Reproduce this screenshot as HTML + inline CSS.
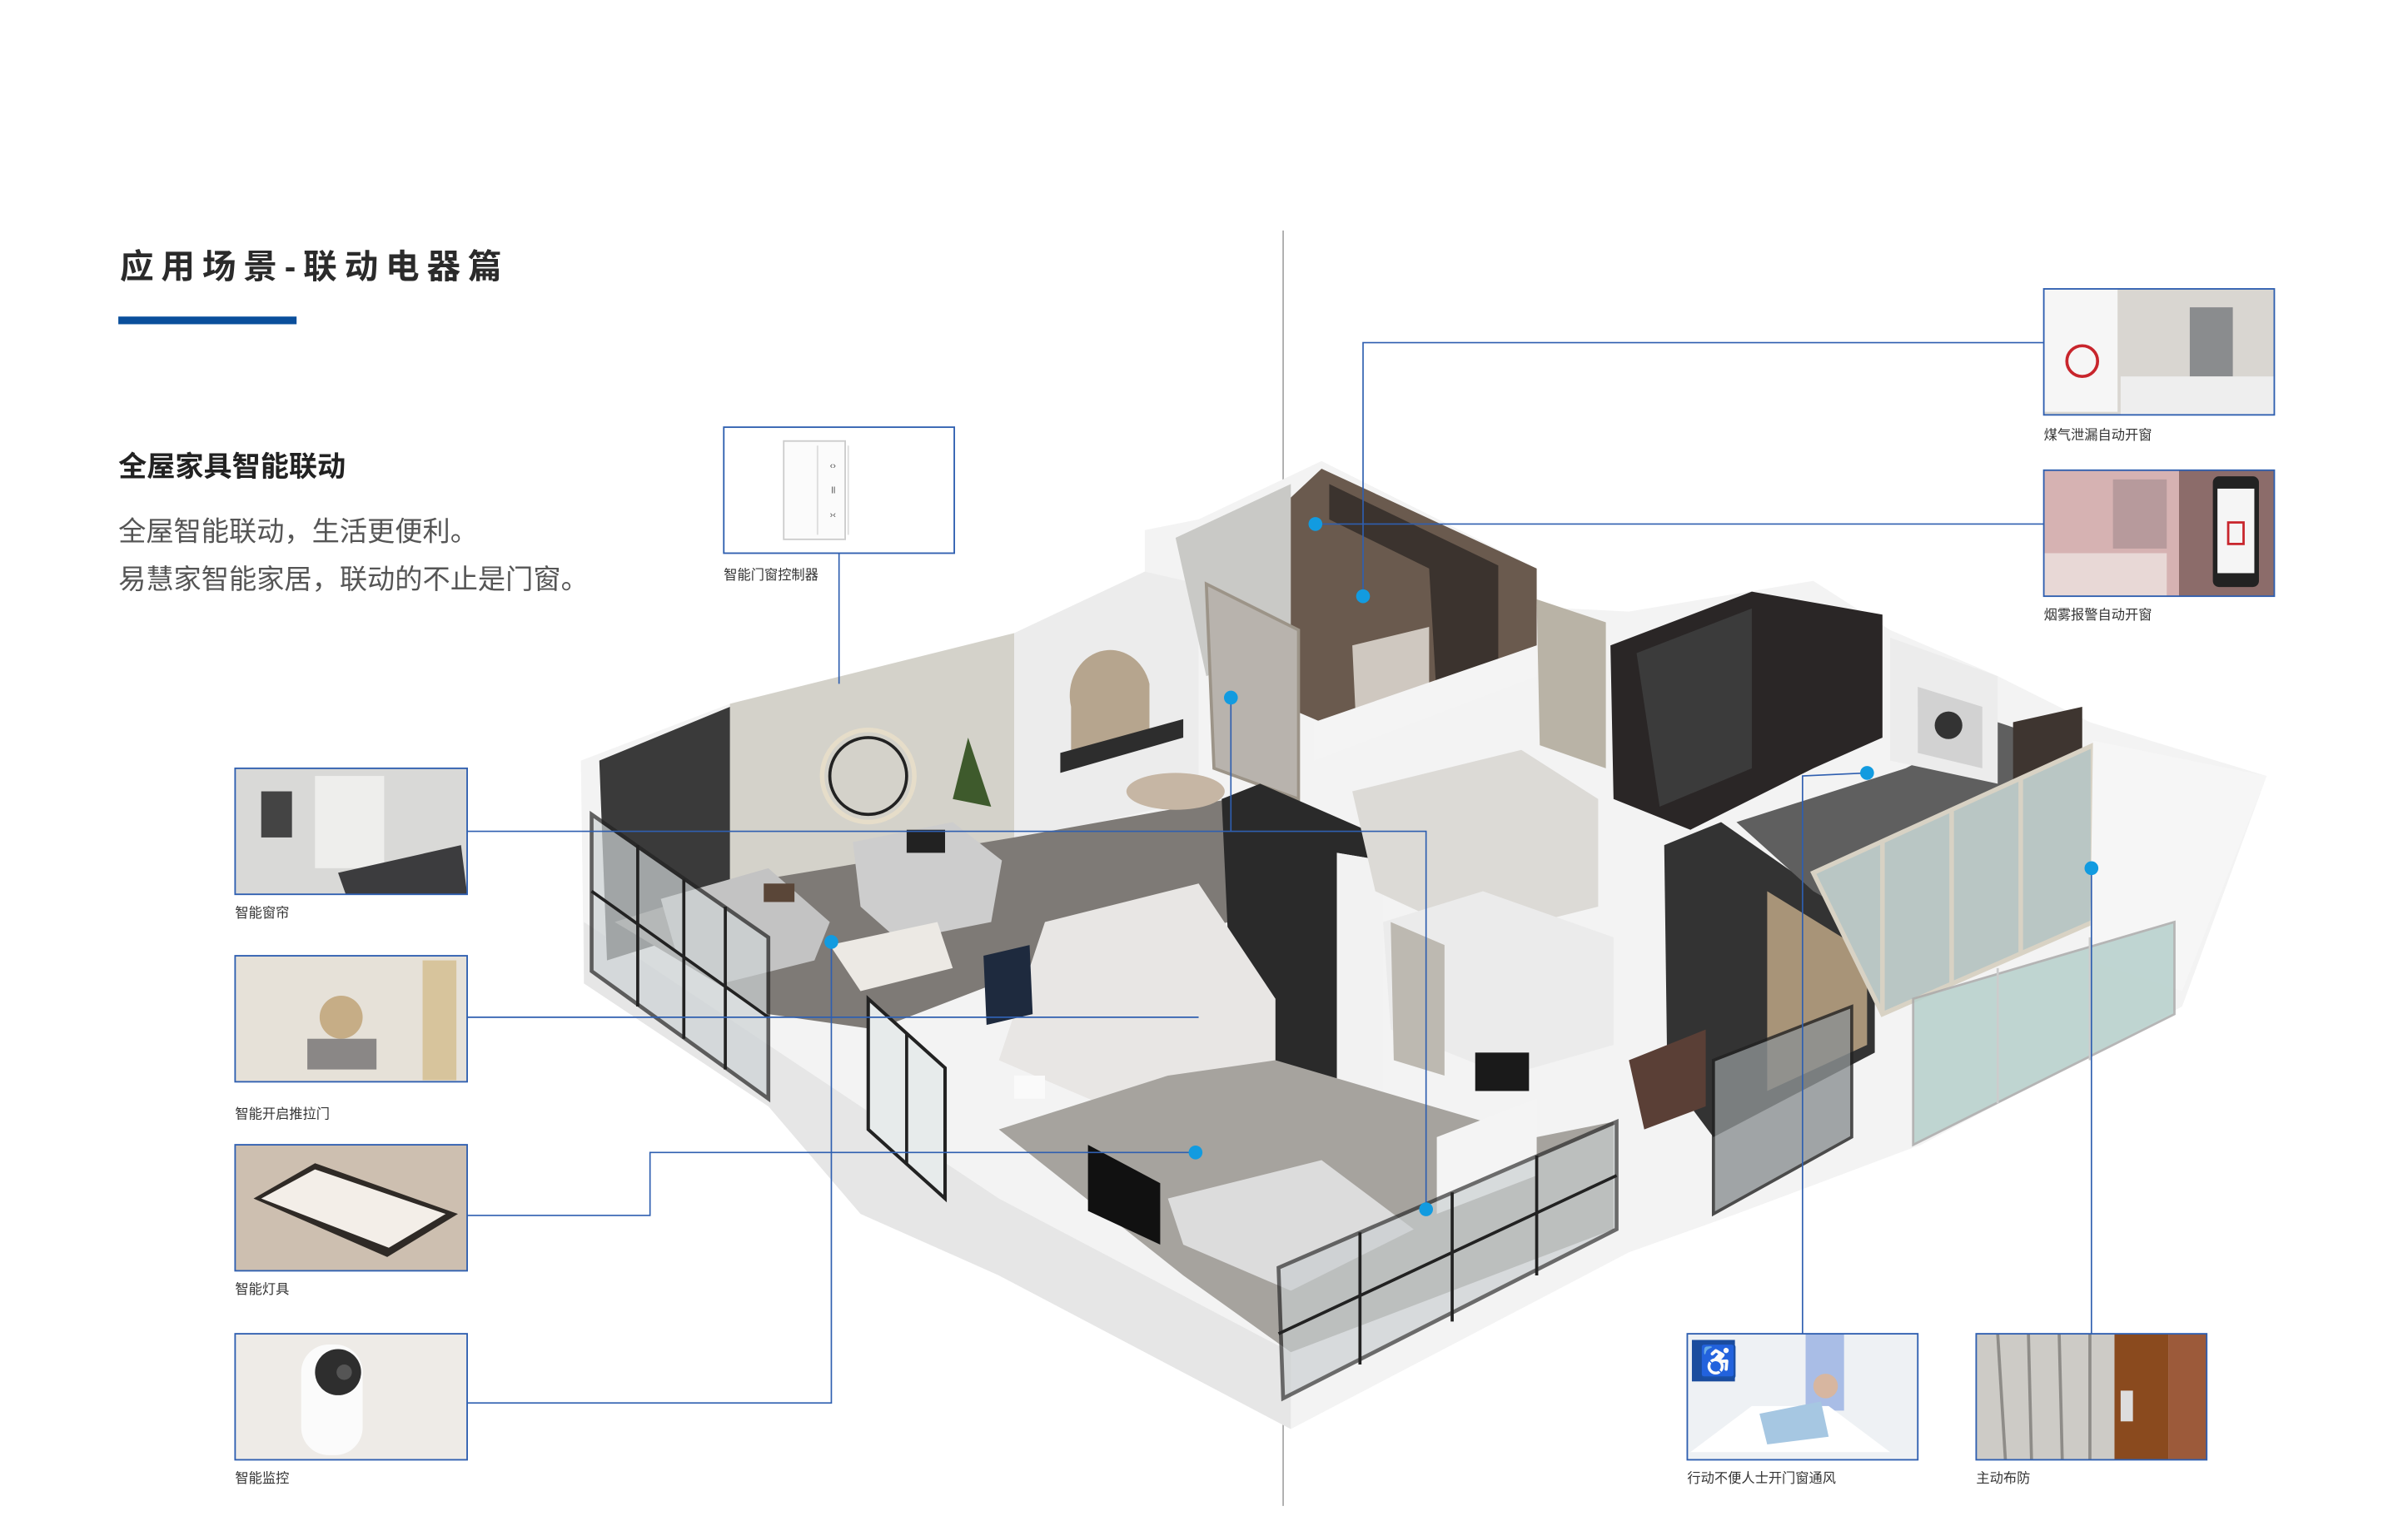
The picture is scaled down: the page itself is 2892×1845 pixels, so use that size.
<!DOCTYPE html>
<html><head><meta charset="utf-8"><style>
html,body{margin:0;padding:0;background:#fff;}
svg{display:block;}
text{font-family:"Liberation Sans","Noto Sans CJK SC",sans-serif;}
</style></head><body>
<svg width="2892" height="1845" viewBox="0 0 1567 999.6" preserveAspectRatio="none" xmlns="http://www.w3.org/2000/svg">
<rect width="1567" height="1000" fill="#fff"/>
<text x="78" y="181" font-size="22" font-weight="bold" fill="#2b2b2b" letter-spacing="4.8">应用场景-联动电器篇</text>
<rect x="77" y="206" width="116" height="5" fill="#0a4f9c"/>
<text x="77" y="310" font-size="18.5" font-weight="bold" fill="#222">全屋家具智能联动</text>
<text x="77" y="352" font-size="18" fill="#555">全屋智能联动，生活更便利。</text>
<text x="77" y="383" font-size="18" fill="#555">易慧家智能家居，联动的不止是门窗。</text>
<line x1="835" y1="150" x2="835" y2="980" stroke="#888" stroke-width="0.7"/>

<g>
<polygon points="378,495 475,458 660,412 745,372 745,345 780,338 860,300 1000,370 1000,395 1060,398 1180,378 1230,410 1300,440 1360,470 1475,505 1420,655 1250,745 1130,790 1060,815 840,930 650,830 600,790 500,720 380,640" fill="#f3f3f3"/>
<polygon points="380,640 500,720 560,790 650,830 840,930 840,880 650,780 500,680 380,600" fill="#e6e6e6"/>
<polygon points="475,458 660,412 660,548 475,600" fill="#d4d2ca"/>
<polygon points="390,495 475,460 475,600 395,625" fill="#3a3a3a"/>
<polygon points="660,412 745,372 780,380 780,520 660,548" fill="#ececec"/>
<circle cx="565" cy="505" r="25" fill="none" stroke="#222" stroke-width="2"/>
<circle cx="565" cy="505" r="30" fill="none" stroke="#f2e4c8" stroke-width="3" opacity="0.6"/>
<path d="M697,460 A25,28 0 0 1 748,445 L748,480 L697,490 Z" fill="#b6a58e"/>
<polygon points="400,600 480,575 660,545 800,520 800,600 700,620 570,670 500,660" fill="#7e7a76"/>
<polygon points="430,585 500,565 540,600 530,625 470,640 440,620" fill="#c3c3c3"/>
<polygon points="555,548 620,535 652,560 645,600 585,612 560,590" fill="#cdcdcd"/>
<rect x="590" y="540" width="25" height="15" fill="#222"/>
<rect x="497" y="575" width="20" height="12" fill="#5a4638"/>
<polygon points="540,615 610,600 620,630 560,645" fill="#ece9e4"/>
<ellipse cx="765" cy="515" rx="32" ry="12" fill="#c6b6a4"/>
<polygon points="690,490 770,468 770,480 690,503" fill="#2d2d2d"/>
<polygon points="620,520 630,480 645,525" fill="#3e5a2c"/>
<polygon points="780,380 860,305 1000,370 1000,420 860,470 790,440" fill="#6a5a4e"/>
<polygon points="765,350 840,315 840,420 785,440" fill="#c9c9c6"/>
<polygon points="865,315 975,368 975,440 935,455 930,370 865,338" fill="#3b332e"/>
<polygon points="880,420 930,408 930,455 882,462" fill="#cfc8c0"/>
<polygon points="855,470 1000,420 1000,440 855,495" fill="#f4f4f4"/>
<polygon points="785,380 845,410 845,520 790,500" fill="#b8b3ad" stroke="#9c9488" stroke-width="2"/>
<polygon points="795,520 820,510 900,545 900,560 870,555 870,718 803,695" fill="#2a2a2a"/>
<polygon points="870,555 900,560 900,718 870,718" fill="#f2f2f2"/>
<polygon points="680,600 780,575 830,650 830,700 720,720 650,690" fill="#e8e6e4"/>
<polygon points="640,622 670,615 672,660 642,667" fill="#1e2a3e"/>
<rect x="660" y="700" width="20" height="15" fill="#fafafa"/>
<polygon points="565,650 615,695 615,780 565,735" fill="#e7ebeb" stroke="#222" stroke-width="2.2"/>
<line x1="590" y1="672" x2="590" y2="758" stroke="#222" stroke-width="2"/>
<polygon points="385,530 500,610 500,715 385,632" fill="#cdd3d5" opacity="0.7" stroke="#222" stroke-width="2.5"/>
<line x1="415" y1="550" x2="415" y2="655" stroke="#222" stroke-width="2"/>
<line x1="445" y1="572" x2="445" y2="676" stroke="#222" stroke-width="2"/>
<line x1="472" y1="590" x2="472" y2="696" stroke="#222" stroke-width="2"/>
<line x1="385" y1="580" x2="500" y2="662" stroke="#222" stroke-width="2"/>
<polygon points="880,515 990,488 1040,520 1040,590 960,610 895,580" fill="#dcdad6"/>
<polygon points="900,600 965,580 1050,610 1050,680 980,700 905,670" fill="#ebebeb"/>
<polygon points="905,600 940,615 940,700 907,690" fill="#bdb9b1"/>
<polygon points="1000,390 1045,405 1045,500 1002,485" fill="#b9b3a6"/>
<polygon points="650,735 760,700 830,690 1000,740 1050,730 1050,800 840,880 770,830" fill="#a6a39e"/>
<polygon points="760,780 860,755 920,800 840,840 770,810" fill="#dcdcdc"/>
<polygon points="708,745 755,770 755,810 708,788" fill="#111"/>
<polygon points="935,740 1000,715 1000,765 935,790" fill="#f4f4f4"/>
<rect x="960" y="685" width="35" height="25" fill="#1a1a1a"/>
<polygon points="832,825 1052,730 1052,800 835,910" fill="#c9ced0" opacity="0.65" stroke="#222" stroke-width="2.5"/>
<line x1="885" y1="802" x2="885" y2="888" stroke="#222" stroke-width="2"/>
<line x1="945" y1="776" x2="945" y2="860" stroke="#222" stroke-width="2"/>
<line x1="1000" y1="752" x2="1000" y2="830" stroke="#222" stroke-width="2"/>
<line x1="832" y1="868" x2="1052" y2="765" stroke="#222" stroke-width="2"/>
<polygon points="1048,420 1140,385 1225,400 1225,480 1180,500 1100,540 1050,520" fill="#2a2626"/>
<polygon points="1065,425 1140,396 1140,500 1080,525" fill="#3b3b3b"/>
<polygon points="1083,550 1120,535 1220,605 1220,685 1115,740 1085,700" fill="#333"/>
<polygon points="1150,580 1215,620 1215,680 1150,710" fill="#a89478"/>
<polygon points="1060,690 1110,670 1110,720 1070,735" fill="#5a3f36"/>
<polygon points="1115,690 1205,655 1205,740 1115,790" fill="#8c9193" opacity="0.8" stroke="#222" stroke-width="2"/>
<polygon points="1130,535 1240,500 1300,470 1360,490 1340,560 1250,620 1180,580" fill="#5f5f5f"/>
<polygon points="1230,415 1300,440 1300,510 1230,495" fill="#ececec"/>
<polygon points="1248,447 1290,460 1290,500 1248,490" fill="#d2d2d2"/>
<circle cx="1268" cy="472" r="9" fill="#333"/>
<polygon points="1310,470 1355,460 1355,500 1310,510" fill="#3e3530"/>
<polygon points="1180,568 1362,485 1362,600 1225,660" fill="#b9c6c4" stroke="#d8d2c4" stroke-width="3"/>
<line x1="1225" y1="548" x2="1225" y2="660" stroke="#d8d2c4" stroke-width="3"/>
<line x1="1270" y1="528" x2="1270" y2="640" stroke="#d8d2c4" stroke-width="3"/>
<line x1="1315" y1="507" x2="1315" y2="620" stroke="#d8d2c4" stroke-width="3"/>
<polygon points="1362,482 1475,505 1420,645 1360,625" fill="#f6f6f6"/>
<polygon points="1245,650 1415,600 1415,660 1245,745" fill="#b6d0cc" opacity="0.85" stroke="#aaa" stroke-width="1.5"/>
<line x1="1300" y1="630" x2="1300" y2="718" stroke="#ccc" stroke-width="1.5"/>
<line x1="1360" y1="610" x2="1360" y2="690" stroke="#ccc" stroke-width="1.5"/>
</g>

<g stroke="#2f5fb0" stroke-width="0.9" fill="none">
<polyline points="546,360 546,445"/>
<polyline points="304,541 928,541 928,787"/>
<polyline points="801,454 801,541"/>
<polyline points="304,662 780,662"/>
<polyline points="304,791 423,791 423,750 778,750"/>
<polyline points="304,913 541,913 541,613"/>
<polyline points="1330,223 887,223 887,388"/>
<polyline points="1330,341 856,341"/>
<polyline points="1173,868 1173,505 1215,503"/>
<polyline points="1361,868 1361,565"/>
</g>
<g fill="#129be0">
<circle cx="856" cy="341" r="4.5"/><circle cx="887" cy="388" r="4.5"/>
<circle cx="801" cy="454" r="4.5"/><circle cx="541" cy="613" r="4.5"/>
<circle cx="778" cy="750" r="4.5"/><circle cx="928" cy="787" r="4.5"/>
<circle cx="1215" cy="503" r="4.5"/><circle cx="1361" cy="565" r="4.5"/>
</g>

<rect x="471" y="278" width="150" height="82" fill="#fff" stroke="#2f5fb0" stroke-width="1"/>
<rect x="510" y="287" width="40" height="64" fill="#fbfbfb" stroke="#ccc" stroke-width="1"/>
<line x1="532" y1="290" x2="532" y2="348" stroke="#ddd"/><line x1="552" y1="290" x2="552" y2="348" stroke="#ddd"/>
<text x="540" y="305" font-size="6" fill="#555">‹›</text>
<text x="541" y="321" font-size="6" fill="#555">ll</text>
<text x="540" y="337" font-size="6" fill="#555">›‹</text>
<text x="471" y="377" font-size="8.8" fill="#333">智能门窗控制器</text>

<g>
<rect x="153" y="500" width="151" height="82" fill="#d9d9d7"/>
<rect x="205" y="505" width="45" height="60" fill="#eeeeec"/>
<polygon points="220,568 300,550 304,582 225,582" fill="#3c3c3e"/>
<rect x="170" y="515" width="20" height="30" fill="#444"/>
<rect x="153" y="500" width="151" height="82" fill="none" stroke="#2f5fb0" stroke-width="1"/>
<text x="153" y="597" font-size="8.8" fill="#333">智能窗帘</text>

<rect x="153" y="622" width="151" height="82" fill="#e6e1d8"/>
<circle cx="222" cy="662" r="14" fill="#c6ad86"/>
<rect x="200" y="676" width="45" height="20" fill="#8a8786"/>
<rect x="275" y="625" width="22" height="78" fill="#d7c49c"/>
<rect x="153" y="622" width="151" height="82" fill="none" stroke="#2f5fb0" stroke-width="1"/>
<text x="153" y="728" font-size="8.8" fill="#333">智能开启推拉门</text>

<rect x="153" y="745" width="151" height="82" fill="#cdbfb0"/>
<polygon points="165,780 205,757 298,790 252,818" fill="#2f2a26"/>
<polygon points="170,780 205,761 290,790 253,812" fill="#f3eee8"/>
<rect x="153" y="745" width="151" height="82" fill="none" stroke="#2f5fb0" stroke-width="1"/>
<text x="153" y="842" font-size="8.8" fill="#333">智能灯具</text>

<rect x="153" y="868" width="151" height="82" fill="#eeebe7"/>
<rect x="196" y="875" width="40" height="72" rx="18" fill="#fbfbfb"/>
<circle cx="220" cy="893" r="15" fill="#2e2e2e"/>
<circle cx="224" cy="893" r="5" fill="#555"/>
<rect x="153" y="868" width="151" height="82" fill="none" stroke="#2f5fb0" stroke-width="1"/>
<text x="153" y="965" font-size="8.8" fill="#333">智能监控</text>
</g>

<g>
<rect x="1330" y="188" width="150" height="82" fill="#d9d6d1"/>
<rect x="1330" y="188" width="48" height="80" fill="#f6f6f6"/>
<circle cx="1355" cy="235" r="10" fill="none" stroke="#c8252c" stroke-width="2"/>
<rect x="1425" y="200" width="28" height="45" fill="#8a8c8e"/>
<rect x="1380" y="245" width="100" height="25" fill="#eee"/>
<rect x="1330" y="188" width="150" height="82" fill="none" stroke="#2f5fb0" stroke-width="1"/>
<text x="1330" y="286" font-size="8.8" fill="#333">煤气泄漏自动开窗</text>

<rect x="1330" y="306" width="150" height="82" fill="#d6b2b2"/>
<rect x="1375" y="312" width="35" height="45" fill="#b79a9c"/>
<rect x="1330" y="360" width="80" height="28" fill="#e8d8d6"/>
<rect x="1418" y="306" width="62" height="82" fill="#8c6c6a"/>
<rect x="1440" y="310" width="30" height="72" rx="4" fill="#222"/>
<rect x="1443" y="318" width="24" height="55" fill="#f5f5f5"/>
<rect x="1450" y="340" width="10" height="14" fill="none" stroke="#c8252c" stroke-width="1.5"/>
<rect x="1330" y="306" width="150" height="82" fill="none" stroke="#2f5fb0" stroke-width="1"/>
<text x="1330" y="403" font-size="8.8" fill="#333">烟雾报警自动开窗</text>

<rect x="1098" y="868" width="150" height="82" fill="#eef1f4"/>
<rect x="1175" y="868" width="25" height="50" fill="#a9bde6"/>
<polygon points="1100,945 1140,915 1190,915 1230,945" fill="#fff"/>
<polygon points="1145,920 1185,912 1190,935 1150,940" fill="#a6c7e2"/>
<circle cx="1188" cy="902" r="8" fill="#d7b6a0"/>
<rect x="1101" y="872" width="28" height="27" fill="#1a4c9e"/>
<text x="1106" y="893" font-size="20" fill="#fff">♿</text>
<rect x="1098" y="868" width="150" height="82" fill="none" stroke="#2f5fb0" stroke-width="1"/>
<text x="1098" y="965" font-size="8.8" fill="#333">行动不便人士开门窗通风</text>

<rect x="1286" y="868" width="150" height="82" fill="#cdcbc6"/>
<g stroke="#8e8c88" stroke-width="2"><line x1="1300" y1="868" x2="1305" y2="950"/><line x1="1320" y1="868" x2="1322" y2="950"/><line x1="1340" y1="868" x2="1342" y2="950"/><line x1="1360" y1="868" x2="1360" y2="950"/></g>
<rect x="1376" y="868" width="35" height="82" fill="#8a4a1e"/>
<rect x="1411" y="868" width="25" height="82" fill="#9c5a3a"/>
<rect x="1380" y="905" width="8" height="20" fill="#ddd"/>
<rect x="1286" y="868" width="150" height="82" fill="none" stroke="#2f5fb0" stroke-width="1"/>
<text x="1286" y="965" font-size="8.8" fill="#333">主动布防</text>
</g>
</svg>
</body></html>
